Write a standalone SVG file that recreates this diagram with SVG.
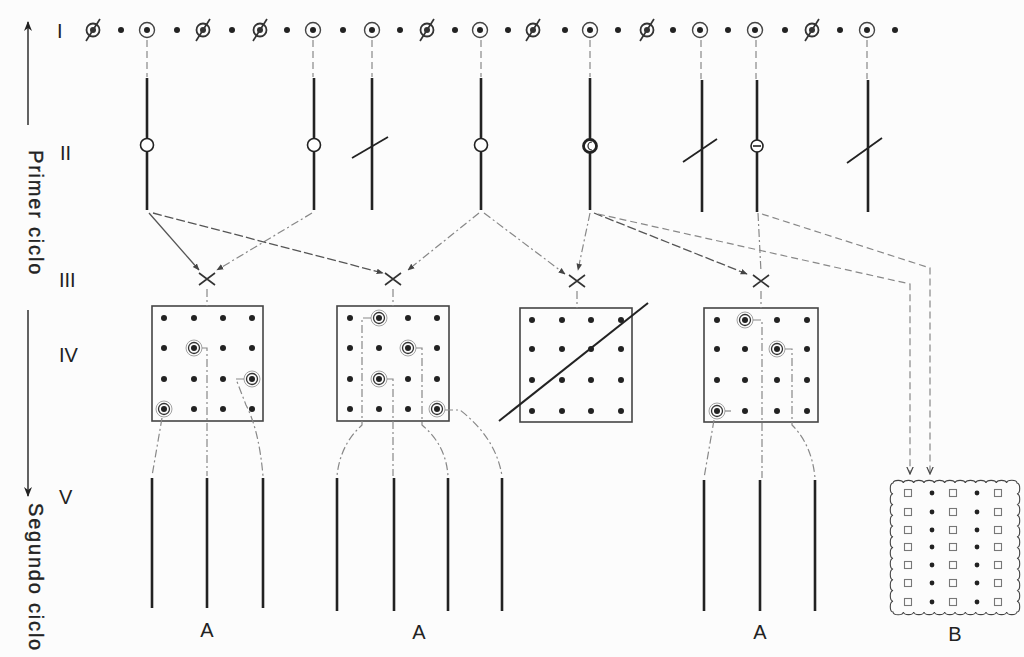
<svg xmlns="http://www.w3.org/2000/svg" xmlns:xlink="http://www.w3.org/1999/xlink" width="1024" height="657" viewBox="0 0 1024 657">
<style>
.lbl{font-family:"Liberation Sans",Arial,sans-serif;fill:#222;font-size:20px}
.side{font-family:"Liberation Sans",Arial,sans-serif;fill:#222;font-size:20px;letter-spacing:1.8px;stroke:#222;stroke-width:0.4}
.chrom{stroke:#222;stroke-width:2.6;fill:none}
.dsh{stroke:#888;stroke-width:1.2;fill:none;stroke-dasharray:7 4}
.dd{stroke:#888;stroke-width:1.2;fill:none;stroke-dasharray:8 3 2 3}
.dk{stroke:#555;stroke-width:1.3;fill:none;stroke-dasharray:9 3}
.box{stroke:#444;stroke-width:1.6;fill:none}
.x{stroke:#333;stroke-width:1.6}
.cen{fill:#fff;stroke:#222;stroke-width:1.6}
</style>
<defs>
<marker id="ah" viewBox="0 0 10 10" refX="9" refY="5" markerWidth="7" markerHeight="7" orient="auto" markerUnits="userSpaceOnUse">
<path d="M0,1 L10,5 L0,9 z" fill="#444"/>
</marker>
<marker id="av" viewBox="0 0 10 10" refX="9" refY="5" markerWidth="8" markerHeight="8" orient="auto" markerUnits="userSpaceOnUse">
<path d="M0,1 L9,5 L0,9" fill="none" stroke="#444" stroke-width="1.5"/>
</marker>
<marker id="au" viewBox="0 0 10 10" refX="9" refY="5" markerWidth="10" markerHeight="10" orient="auto-start-reverse" markerUnits="userSpaceOnUse">
<path d="M0,1 L10,5 L0,9 L3,5 z" fill="#222"/>
</marker>
<g id="dot"><circle r="3" fill="#222"/></g>
<g id="ring"><circle r="7.5" fill="none" stroke="#444" stroke-width="1.4"/><circle r="3" fill="#222"/></g>
<g id="nul"><circle r="6.5" fill="none" stroke="#333" stroke-width="1.8"/><circle r="3" fill="#333"/><line x1="-7" y1="11" x2="7" y2="-11" stroke="#333" stroke-width="1.7"/></g>
<g id="cd"><circle r="8" fill="none" stroke="#999" stroke-width="0.9"/><circle r="5.5" fill="none" stroke="#333" stroke-width="1.3"/><circle r="3" fill="#222"/></g>
<g id="gd"><circle r="3" fill="#222"/></g>
<g id="sq"><rect x="-3.5" y="-3.5" width="7" height="7" fill="none" stroke="#777" stroke-width="1.1"/></g>
<g id="bd"><circle r="2.4" fill="#222"/></g>
</defs>
<rect width="1024" height="657" fill="#fcfcfc"/>

<g id="side-axis">
<line x1="28" y1="22" x2="28" y2="125" stroke="#222" stroke-width="1.4" marker-start="url(#au)"/>
<text class="side" transform="translate(29,150) rotate(90)">Primer ciclo</text>
<line x1="28" y1="310" x2="28" y2="496" stroke="#222" stroke-width="1.4" marker-end="url(#au)"/>
<text class="side" transform="translate(29,503) rotate(90)">Segundo ciclo</text>
</g>

<g id="labels">
<text class="lbl" x="57" y="38">I</text>
<text class="lbl" x="60" y="160">II</text>
<text class="lbl" x="59" y="287">III</text>
<text class="lbl" x="59" y="362">IV</text>
<text class="lbl" x="59" y="504">V</text>
</g>

<g id="row-I">
<use xlink:href="#nul" x="93" y="30"/><use xlink:href="#dot" x="121" y="30"/>
<use xlink:href="#ring" x="147" y="30"/><use xlink:href="#dot" x="177" y="30"/>
<use xlink:href="#nul" x="203" y="30"/><use xlink:href="#dot" x="232" y="30"/>
<use xlink:href="#nul" x="260" y="30"/><use xlink:href="#dot" x="287" y="30"/>
<use xlink:href="#ring" x="313" y="30"/><use xlink:href="#dot" x="343" y="30"/>
<use xlink:href="#ring" x="372" y="30"/><use xlink:href="#dot" x="400" y="30"/>
<use xlink:href="#nul" x="427" y="30"/><use xlink:href="#dot" x="455" y="30"/>
<use xlink:href="#ring" x="480" y="30"/><use xlink:href="#dot" x="508" y="30"/>
<use xlink:href="#nul" x="533" y="30"/><use xlink:href="#dot" x="565" y="30"/>
<use xlink:href="#ring" x="590" y="30"/><use xlink:href="#dot" x="618" y="30"/>
<use xlink:href="#nul" x="647" y="30"/><use xlink:href="#dot" x="673" y="30"/>
<use xlink:href="#ring" x="700" y="30"/><use xlink:href="#dot" x="728" y="30"/>
<use xlink:href="#ring" x="755" y="30"/><use xlink:href="#dot" x="785" y="30"/>
<use xlink:href="#nul" x="812" y="30"/><use xlink:href="#dot" x="840" y="30"/>
<use xlink:href="#ring" x="867" y="30"/><use xlink:href="#dot" x="895" y="30"/>
</g>

<g id="row-II">
<line class="chrom" x1="147" y1="78" x2="147" y2="210"/><circle class="cen" cx="147" cy="145" r="6.5"/>
<line class="chrom" x1="314" y1="78" x2="314" y2="210"/><circle class="cen" cx="314" cy="145" r="6.5"/>
<line class="chrom" x1="372" y1="78" x2="372" y2="210"/><line x1="352" y1="158" x2="388" y2="137" stroke="#222" stroke-width="1.8"/>
<line class="chrom" x1="481" y1="78" x2="481" y2="210"/><circle class="cen" cx="481" cy="145" r="6.5"/>
<line class="chrom" x1="590" y1="78" x2="590" y2="210"/><circle cx="590" cy="146" r="6.5" fill="#fff" stroke="#222" stroke-width="2.8"/><path d="M592,142 a4,4 0 0 0 0,8" fill="none" stroke="#222" stroke-width="1.2"/>
<line class="chrom" x1="702" y1="80" x2="702" y2="212"/><line x1="683" y1="162" x2="717" y2="139" stroke="#222" stroke-width="1.8"/>
<line class="chrom" x1="757" y1="80" x2="757" y2="212"/><circle class="cen" cx="757" cy="146" r="6"/><line x1="753" y1="146" x2="761" y2="146" stroke="#222" stroke-width="1.6"/>
<line class="chrom" x1="868" y1="80" x2="868" y2="212"/><line x1="847" y1="163" x2="882" y2="138" stroke="#222" stroke-width="1.8"/>
</g>

<g id="row-III">
<path class="x" d="M199,273 L215,285 M215,273 L199,285"/>
<path class="x" d="M385,273 L401,285 M401,273 L385,285"/>
<path class="x" d="M569,275 L585,287 M585,275 L569,287"/>
<path class="x" d="M753,275 L769,287 M769,275 L753,287"/>
</g>

<g id="box-1">
<rect class="box" x="152" y="306" width="111" height="115"/>
<use xlink:href="#gd" x="164" y="318"/><use xlink:href="#gd" x="194" y="318"/><use xlink:href="#gd" x="223" y="318"/><use xlink:href="#gd" x="252" y="318"/>
<use xlink:href="#gd" x="164" y="348"/><use xlink:href="#cd" x="194" y="348"/><use xlink:href="#gd" x="223" y="348"/><use xlink:href="#gd" x="252" y="348"/>
<use xlink:href="#gd" x="164" y="379"/><use xlink:href="#gd" x="194" y="379"/><use xlink:href="#gd" x="223" y="379"/><use xlink:href="#cd" x="252" y="379"/>
<use xlink:href="#cd" x="164" y="409"/><use xlink:href="#gd" x="194" y="409"/><use xlink:href="#gd" x="223" y="409"/><use xlink:href="#gd" x="252" y="409"/>
</g>

<g id="box-2">
<rect class="box" x="337" y="306" width="112" height="115"/>
<use xlink:href="#gd" x="350" y="318"/><use xlink:href="#cd" x="379" y="318"/><use xlink:href="#gd" x="408" y="318"/><use xlink:href="#gd" x="437" y="318"/>
<use xlink:href="#gd" x="350" y="348"/><use xlink:href="#gd" x="379" y="348"/><use xlink:href="#cd" x="408" y="348"/><use xlink:href="#gd" x="437" y="348"/>
<use xlink:href="#gd" x="350" y="379"/><use xlink:href="#cd" x="379" y="379"/><use xlink:href="#gd" x="408" y="379"/><use xlink:href="#gd" x="437" y="379"/>
<use xlink:href="#gd" x="350" y="409"/><use xlink:href="#gd" x="379" y="409"/><use xlink:href="#gd" x="408" y="409"/><use xlink:href="#cd" x="437" y="409"/>
</g>

<g id="box-3">
<rect class="box" x="520" y="308" width="112" height="114"/>
<use xlink:href="#gd" x="532" y="320"/><use xlink:href="#gd" x="562" y="320"/><use xlink:href="#gd" x="591" y="320"/><use xlink:href="#gd" x="621" y="320"/>
<use xlink:href="#gd" x="532" y="349"/><use xlink:href="#gd" x="562" y="349"/><use xlink:href="#gd" x="591" y="349"/><use xlink:href="#gd" x="621" y="349"/>
<use xlink:href="#gd" x="532" y="380"/><use xlink:href="#gd" x="562" y="380"/><use xlink:href="#gd" x="591" y="380"/><use xlink:href="#gd" x="621" y="380"/>
<use xlink:href="#gd" x="532" y="411"/><use xlink:href="#gd" x="562" y="411"/><use xlink:href="#gd" x="591" y="411"/><use xlink:href="#gd" x="621" y="411"/>
<line x1="499" y1="421" x2="648" y2="303" stroke="#222" stroke-width="2"/>
</g>

<g id="box-4">
<rect class="box" x="704" y="308" width="114" height="114"/>
<use xlink:href="#gd" x="717" y="320"/><use xlink:href="#cd" x="745" y="320"/><use xlink:href="#gd" x="777" y="320"/><use xlink:href="#gd" x="807" y="320"/>
<use xlink:href="#gd" x="717" y="349"/><use xlink:href="#gd" x="745" y="349"/><use xlink:href="#cd" x="777" y="349"/><use xlink:href="#gd" x="807" y="349"/>
<use xlink:href="#gd" x="717" y="380"/><use xlink:href="#gd" x="745" y="380"/><use xlink:href="#gd" x="777" y="380"/><use xlink:href="#gd" x="807" y="380"/>
<use xlink:href="#cd" x="717" y="411"/><use xlink:href="#gd" x="745" y="411"/><use xlink:href="#gd" x="777" y="411"/><use xlink:href="#gd" x="807" y="411"/>
</g>

<g id="group-A1">
<line class="chrom" x1="152" y1="478" x2="152" y2="608"/>
<line class="chrom" x1="207" y1="478" x2="207" y2="608"/>
<line class="chrom" x1="263" y1="478" x2="263" y2="608"/>
<text class="lbl" x="207" y="637" text-anchor="middle">A</text>
</g>
<g id="group-A2">
<line class="chrom" x1="337" y1="478" x2="337" y2="611"/>
<line class="chrom" x1="394" y1="478" x2="394" y2="611"/>
<line class="chrom" x1="448" y1="478" x2="448" y2="611"/>
<line class="chrom" x1="502" y1="478" x2="502" y2="611"/>
<text class="lbl" x="419" y="639" text-anchor="middle">A</text>
</g>
<g id="group-A3">
<line class="chrom" x1="704" y1="480" x2="704" y2="611"/>
<line class="chrom" x1="760" y1="480" x2="760" y2="611"/>
<line class="chrom" x1="815" y1="480" x2="815" y2="611"/>
<text class="lbl" x="760" y="639" text-anchor="middle">A</text>
</g>

<g id="box-B">
<path d="M893,483 a5.2,3 0 0 1 10.33,0 a5.2,3 0 0 1 10.33,0 a5.2,3 0 0 1 10.33,0 a5.2,3 0 0 1 10.33,0 a5.2,3 0 0 1 10.33,0 a5.2,3 0 0 1 10.33,0 a5.2,3 0 0 1 10.33,0 a5.2,3 0 0 1 10.33,0 a5.2,3 0 0 1 10.33,0 a5.2,3 0 0 1 10.33,0 a5.2,3 0 0 1 10.33,0 a5.2,3 0 0 1 10.37,0
a3,5.4 0 0 1 0,10.75 a3,5.4 0 0 1 0,10.75 a3,5.4 0 0 1 0,10.75 a3,5.4 0 0 1 0,10.75 a3,5.4 0 0 1 0,10.75 a3,5.4 0 0 1 0,10.75 a3,5.4 0 0 1 0,10.75 a3,5.4 0 0 1 0,10.75 a3,5.4 0 0 1 0,10.75 a3,5.4 0 0 1 0,10.75 a3,5.4 0 0 1 0,10.75 a3,5.4 0 0 1 0,10.75
a5.2,3 0 0 1 -10.33,0 a5.2,3 0 0 1 -10.33,0 a5.2,3 0 0 1 -10.33,0 a5.2,3 0 0 1 -10.33,0 a5.2,3 0 0 1 -10.33,0 a5.2,3 0 0 1 -10.33,0 a5.2,3 0 0 1 -10.33,0 a5.2,3 0 0 1 -10.33,0 a5.2,3 0 0 1 -10.33,0 a5.2,3 0 0 1 -10.33,0 a5.2,3 0 0 1 -10.33,0 a5.2,3 0 0 1 -10.37,0
a3,5.4 0 0 1 0,-10.75 a3,5.4 0 0 1 0,-10.75 a3,5.4 0 0 1 0,-10.75 a3,5.4 0 0 1 0,-10.75 a3,5.4 0 0 1 0,-10.75 a3,5.4 0 0 1 0,-10.75 a3,5.4 0 0 1 0,-10.75 a3,5.4 0 0 1 0,-10.75 a3,5.4 0 0 1 0,-10.75 a3,5.4 0 0 1 0,-10.75 a3,5.4 0 0 1 0,-10.75 a3,5.4 0 0 1 0,-10.75 z" fill="none" stroke="#444" stroke-width="1.1"/>
<use xlink:href="#sq" x="908" y="493"/><use xlink:href="#bd" x="932" y="493"/><use xlink:href="#sq" x="953" y="493"/><use xlink:href="#bd" x="977" y="493"/><use xlink:href="#sq" x="998" y="493"/>
<use xlink:href="#sq" x="908" y="512"/><use xlink:href="#bd" x="932" y="512"/><use xlink:href="#sq" x="953" y="512"/><use xlink:href="#bd" x="977" y="512"/><use xlink:href="#sq" x="998" y="512"/>
<use xlink:href="#sq" x="908" y="530"/><use xlink:href="#bd" x="932" y="530"/><use xlink:href="#sq" x="953" y="530"/><use xlink:href="#bd" x="977" y="530"/><use xlink:href="#sq" x="998" y="530"/>
<use xlink:href="#sq" x="908" y="547"/><use xlink:href="#bd" x="932" y="547"/><use xlink:href="#sq" x="953" y="547"/><use xlink:href="#bd" x="977" y="547"/><use xlink:href="#sq" x="998" y="547"/>
<use xlink:href="#sq" x="908" y="565"/><use xlink:href="#bd" x="932" y="565"/><use xlink:href="#sq" x="953" y="565"/><use xlink:href="#bd" x="977" y="565"/><use xlink:href="#sq" x="998" y="565"/>
<use xlink:href="#sq" x="908" y="583"/><use xlink:href="#bd" x="932" y="583"/><use xlink:href="#sq" x="953" y="583"/><use xlink:href="#bd" x="977" y="583"/><use xlink:href="#sq" x="998" y="583"/>
<use xlink:href="#sq" x="908" y="602"/><use xlink:href="#bd" x="932" y="602"/><use xlink:href="#sq" x="953" y="602"/><use xlink:href="#bd" x="977" y="602"/><use xlink:href="#sq" x="998" y="602"/>
<text class="lbl" x="955" y="641" text-anchor="middle">B</text>
</g>

<g id="connectors">
<path class="dsh" d="M147,40 V77 M313,40 V77 M372,40 V77 M481,40 V77 M590,40 V77 M701,40 V79 M756,40 V79 M867,40 V79"/>
<line x1="149" y1="213" x2="199" y2="270" stroke="#555" stroke-width="1.3" marker-end="url(#ah)"/>
<line class="dd" x1="312" y1="213" x2="217" y2="270" marker-end="url(#ah)"/>
<line class="dk" x1="153" y1="213" x2="383" y2="273" marker-end="url(#ah)"/>
<line class="dd" x1="479" y1="213" x2="408" y2="270" marker-end="url(#ah)"/>
<line class="dd" x1="484" y1="213" x2="565" y2="274" marker-end="url(#ah)"/>
<line class="dd" x1="590" y1="213" x2="578" y2="270" marker-end="url(#ah)"/>
<line class="dk" x1="594" y1="213" x2="747" y2="274" marker-end="url(#ah)"/>
<path class="dd" d="M758,213 L761,272"/>
<path class="dsh" d="M598,214 L910,284 V474" marker-end="url(#av)"/>
<path class="dsh" d="M762,214 L930,268 V474" marker-end="url(#av)"/>
<path class="dd" d="M207,289 V306 M393,289 V306 M577,291 V308 M761,291 V308"/>
<path class="dd" d="M202,348 H207 V476"/>
<path class="dd" d="M244,379 H236 L246,405 Q259,430 263,476"/>
<path class="dd" d="M162,418 L152,476"/>
<path class="dd" d="M371,318 H362 V425 Q340,445 337,476"/>
<path class="dd" d="M416,348 H422 V425 Q446,445 448,476"/>
<path class="dd" d="M387,379 H393 V476"/>
<path class="dd" d="M445,410 H460 Q496,438 502,476"/>
<path class="dd" d="M753,320 H762 V478"/>
<path class="dd" d="M785,349 H792 V425 Q812,445 815,478"/>
<path class="dd" d="M725,411 H731"/>
<path class="dd" d="M714,420 L704,478"/>
</g>
</svg>
